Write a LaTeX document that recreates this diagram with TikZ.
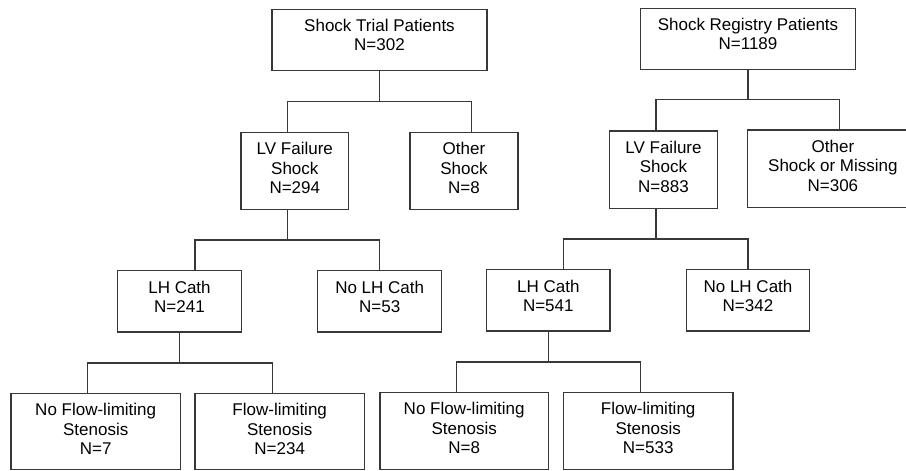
\documentclass[tikz,border=0pt]{standalone}
\usepackage{fontspec}
\setmainfont{Liberation Sans}
\begin{document}
\begin{tikzpicture}[x=1pt,y=-1pt,
  box/.style={draw=black!78,line width=1.4pt,rectangle,inner sep=0pt},
  txt/.style={align=center,inner sep=0pt,anchor=north,text=black,
              font=\fontsize{17}{19.6}\selectfont},
  conn/.style={draw=black!78,line width=1.4pt}]
\useasboundingbox (0,0) rectangle (906,471);
\clip (0,0) rectangle (906,471);
\fill[white] (0,0) rectangle (906,471);

% boxes
\node[box,minimum width=215pt,minimum height=61.4pt] (trial) at (379.5,40) {};
\node[box,minimum width=215.4pt,minimum height=61pt] (reg) at (748,38.8) {};
\node[box,minimum width=107.7pt,minimum height=77pt] (lv1) at (294.8,170.8) {};
\node[box,minimum width=108pt,minimum height=77pt] (oth1) at (464,170.8) {};
\node[box,minimum width=107.6pt,minimum height=77.3pt] (lv2) at (663.5,169.7) {};
\node[box,minimum width=170.3pt,minimum height=77.7pt] (oth2) at (832.9,168.9) {};
\node[box,minimum width=123.6pt,minimum height=61.3pt] (lh1) at (179.5,301.4) {};
\node[box,minimum width=124pt,minimum height=61.3pt] (nolh1) at (379.7,301.4) {};
\node[box,minimum width=123.3pt,minimum height=61.3pt] (lh2) at (548.3,300.4) {};
\node[box,minimum width=123.4pt,minimum height=61.3pt] (nolh2) at (748,300.4) {};
\node[box,minimum width=169.3pt,minimum height=75.8pt] (nf1) at (95.7,431.6) {};
\node[box,minimum width=169.3pt,minimum height=75.8pt] (f1) at (279.7,431.6) {};
\node[box,minimum width=168.3pt,minimum height=76.8pt] (nf2) at (464.2,431.1) {};
\node[box,minimum width=169.7pt,minimum height=76.8pt] (f2) at (648.2,431.1) {};

% texts
\node[txt] (ttrial) at ([yshift=-10.2pt]trial.north) {Shock Trial Patients\\N=302};
\node[txt] (treg) at ([yshift=-10.2pt]reg.north) {Shock Registry Patients\\N=1189};
\node[txt] (tlv1) at ([yshift=-10.4pt]lv1.north) {LV Failure\\Shock\\N=294};
\node[txt] (toth1) at ([yshift=-10.4pt]oth1.north) {Other\\Shock\\N=8};
\node[txt] (tlv2) at ([yshift=-10.4pt]lv2.north) {LV Failure\\Shock\\N=883};
\node[txt] (toth2) at ([yshift=-10.4pt]oth2.north) {Other\\Shock or Missing\\N=306};
\node[txt] (tlh1) at ([yshift=-10.8pt]lh1.north) {LH Cath\\N=241};
\node[txt] (tnolh1) at ([yshift=-10.8pt]nolh1.north) {No LH Cath\\N=53};
\node[txt] (tlh2) at ([yshift=-10.8pt]lh2.north) {LH Cath\\N=541};
\node[txt] (tnolh2) at ([yshift=-10.8pt]nolh2.north) {No LH Cath\\N=342};
\node[txt] (tnf1) at ([yshift=-10pt]nf1.north) {No Flow-limiting\\Stenosis\\N=7};
\node[txt] (tf1) at ([yshift=-10pt]f1.north) {Flow-limiting\\Stenosis\\N=234};
\node[txt] (tnf2) at ([yshift=-10pt]nf2.north) {No Flow-limiting\\Stenosis\\N=8};
\node[txt] (tf2) at ([yshift=-10pt]f2.north) {Flow-limiting\\Stenosis\\N=533};

% junctions
\coordinate (j1) at (379.3,101.7);
\coordinate (j2) at (747.7,99.7);
\coordinate (j3) at (287.3,240);
\coordinate (j4) at (656,239);
\coordinate (j5) at (180,363);
\coordinate (j6) at (548.3,362);

% connectors
\draw[conn] (trial.south) |- (j1);
\draw[conn] ([xshift=-7.5pt]lv1.north) |- (j1) -| ([xshift=7.3pt]oth1.north);
\draw[conn] (reg.south) |- (j2);
\draw[conn] ([xshift=-7.5pt]lv2.north) |- (j2) -| ([xshift=6.8pt]oth2.north);
\draw[conn] ([xshift=-7.5pt]lv1.south) |- (j3);
\draw[conn] ([xshift=15.5pt]lh1.north) |- (j3) -| (nolh1.north);
\draw[conn] ([xshift=-7.5pt]lv2.south) |- (j4);
\draw[conn] ([xshift=15.4pt]lh2.north) |- (j4) -| (nolh2.north);
\draw[conn] (lh1.south) |- (j5);
\draw[conn] ([xshift=-8pt]nf1.north) |- (j5) -| ([xshift=-7.4pt]f1.north);
\draw[conn] (lh2.south) |- (j6);
\draw[conn] ([xshift=-7.9pt]nf2.north) |- (j6) -| ([xshift=-7.5pt]f2.north);
\end{tikzpicture}
\end{document}
